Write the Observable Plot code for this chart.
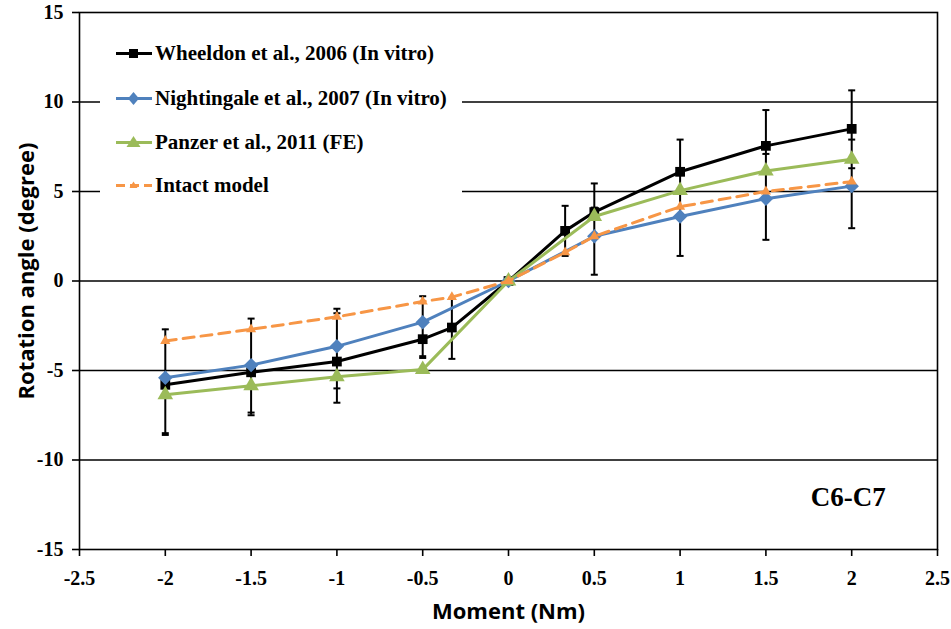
<!DOCTYPE html>
<html>
<head>
<meta charset="utf-8">
<script src="https://cdn.jsdelivr.net/npm/d3@7"></script>
<script src="https://cdn.jsdelivr.net/npm/@observablehq/plot@0.6"></script>
<style>
  body { margin: 0; background: #fff; }
  #wrap { position: relative; width: 951px; height: 629px; }
  #legend { position: absolute; left: 100px; top: 29px; width: 362px; height: 176px; background: #fff;
            font-family: "Liberation Serif", "Times New Roman", serif; font-weight: bold; font-size: 21px; color: #000; }
  .row { position: absolute; left: 0; height: 24px; display: flex; align-items: center; white-space: nowrap; }
  .row svg { margin-left: 16px; margin-right: 3px; flex: none; }
</style>
</head>
<body>
<div id="wrap"></div>
<script>
// ---- data ----
const wheeldonX = [-2, -1.5, -1, -0.5, -0.33, 0, 0.33, 0.5, 1, 1.5, 2];
const wheeldonY = [-5.8, -5.1, -4.5, -3.25, -2.6, 0, 2.8, 3.85, 6.1, 7.55, 8.5];
const nightingaleX = [-2, -1.5, -1, -0.5, 0, 0.5, 1, 1.5, 2];
const nightingaleY = [-5.4, -4.7, -3.65, -2.3, 0, 2.5, 3.6, 4.6, 5.3];
const panzerX = [-2, -1.5, -1, -0.5, 0, 0.5, 1, 1.5, 2];
const panzerY = [-6.35, -5.85, -5.35, -4.95, 0, 3.6, 5.05, 6.15, 6.8];
const intactX = [-2, -1.5, -1, -0.5, -0.33, 0, 0.33, 0.5, 1, 1.5, 2];
const intactY = [-3.35, -2.7, -2.0, -1.15, -0.9, 0, 1.6, 2.5, 4.15, 5.0, 5.55];

const errX  = [-2, -1.5, -1, -0.5, -0.33, 0.33, 0.5, 1, 1.5, 2];
const errLo = [-8.6, -7.5, -6.8, -4.3, -4.35, 1.4, 0.35, 1.4, 2.3, 2.95];
const errHi = [-2.7, -2.1, -1.55, -0.85, -1.0, 4.2, 5.45, 7.9, 9.55, 10.65];
const innerCapX = [-2, -1.5, -1, -1, -0.5, 0.5, 1.5, 2, 2];
const innerCapY = [-8.5, -7.35, -6.0, -1.8, -4.2, 4.1, 7.1, 7.9, 6.3];

const xTicks = [-2.5, -2, -1.5, -1, -0.5, 0, 0.5, 1, 1.5, 2, 2.5];
const yTicks = [-15, -10, -5, 0, 5, 10, 15];
const gridY = [-10, -5, 0, 5, 10];
const seriesNames = ["Wheeldon et al., 2006 (In vitro)", "Nightingale et al., 2007 (In vitro)", "Panzer et al., 2011 (FE)", "Intact model"];
const panelLabel = ["C6-C7"];
const panelLabelPos = {x: 1.98, y: -12.1};
const xTitle = "Moment (Nm)";
const yTitle = "Rotation angle (degree)";

// ---- build tables ----
const toRows = (xs, ys) => xs.map((x, i) => ({x, y: ys[i]}));
const wheeldon = toRows(wheeldonX, wheeldonY);
const nightingale = toRows(nightingaleX, nightingaleY);
const panzer = toRows(panzerX, panzerY);
const intact = toRows(intactX, intactY);
const errs = errX.map((x, i) => ({x, lo: errLo[i], hi: errHi[i]}));
const caps = errs.flatMap(d => [{x: d.x, y: d.lo}, {x: d.x, y: d.hi}])
  .concat(toRows(innerCapX, innerCapY));

const capSymbol = { draw(ctx) { ctx.moveTo(-3.5, 0); ctx.lineTo(3.5, 0); } };

const BLACK = "#000000", BLUE = "#4F81BD", GREEN = "#9BBB59", ORANGE = "#F79646";
const serif = "'Liberation Serif', 'Times New Roman', serif";
const sans = "'Open Sans', Lato, sans-serif";

const chart = Plot.plot({
  width: 951,
  height: 629,
  marginLeft: 79,
  marginRight: 14,
  marginTop: 12,
  marginBottom: 80,
  style: { fontFamily: serif, fontWeight: "bold", fontSize: "20px", background: "#fff", color: "#000", overflow: "visible" },
  x: { domain: [-2.5, 2.5], ticks: xTicks, tickFormat: d => `${d}`, label: null },
  y: { domain: [-15, 15], ticks: yTicks, tickFormat: d => `${d}`, label: null },
  marks: [
    Plot.ruleY(gridY, { stroke: BLACK, strokeWidth: 1.6 }),
    Plot.frame({ stroke: BLACK, strokeWidth: 1.6 }),
    Plot.axisX({ ticks: xTicks, tickFormat: d => `${d}`, tickSize: 7, tickPadding: 14, strokeWidth: 1.6, fontSize: 20, fontWeight: "bold", fontFamily: serif, label: null }),
    Plot.axisY({ ticks: yTicks, tickFormat: d => `${d}`, tickSize: 7, tickPadding: 9, strokeWidth: 1.6, fontSize: 20, fontWeight: "bold", fontFamily: serif, label: null }),
    // error bars
    Plot.ruleX(errs, { x: "x", y1: "lo", y2: "hi", stroke: BLACK, strokeWidth: 2 }),
    Plot.dot(caps, { x: "x", y: "y", symbol: capSymbol, stroke: BLACK, strokeWidth: 2, r: 4 }),
    // series
    Plot.line(wheeldon, { x: "x", y: "y", stroke: BLACK, strokeWidth: 3 }),
    Plot.dot(wheeldon, { x: "x", y: "y", symbol: "square", fill: BLACK, r: 5.5 }),
    Plot.line(nightingale, { x: "x", y: "y", stroke: BLUE, strokeWidth: 3 }),
    Plot.dot(nightingale, { x: "x", y: "y", symbol: "diamond2", fill: BLUE, r: 6.5 }),
    Plot.line(panzer, { x: "x", y: "y", stroke: GREEN, strokeWidth: 3 }),
    Plot.dot(panzer, { x: "x", y: "y", symbol: "triangle", fill: GREEN, r: 5.8 }),
    Plot.line(intact, { x: "x", y: "y", stroke: ORANGE, strokeWidth: 3, strokeDasharray: "11,7" }),
    Plot.dot(intact, { x: "x", y: "y", symbol: "triangle", fill: ORANGE, r: 3.8 }),
    // panel label
    Plot.text(panelLabel, { x: () => panelLabelPos.x, y: () => panelLabelPos.y, text: d => d, fontSize: 27, fontWeight: "bold", fontFamily: serif, fill: BLACK }),
    // axis titles
    Plot.text([xTitle], { frameAnchor: "bottom", dy: 62, lineAnchor: "middle", text: d => d, fontSize: 22, fontWeight: "bold", fontFamily: sans, fill: BLACK }),
    Plot.text([yTitle], { frameAnchor: "left", dx: -53, dy: -10, rotate: -90, textAnchor: "middle", lineAnchor: "middle", text: d => d, fontSize: 22, fontWeight: "bold", fontFamily: sans, fill: BLACK })
  ]
});

// force Times-like serif on every text except the two axis titles
d3.select(chart).selectAll("text").each(function () {
  const t = this.textContent;
  if (t === xTitle || t === yTitle) {
    this.style.fontFamily = "'Open Sans', Lato, sans-serif";
  } else {
    this.style.fontFamily = "'Liberation Serif', 'Times New Roman', serif";
    this.style.fontWeight = "bold";
  }
});

const wrap = document.getElementById("wrap");
wrap.appendChild(chart);

// ---- legend ----
const legend = document.createElement("div");
legend.id = "legend";
const rowsTop = [12, 57, 101, 144];
const swatch = [
  { color: BLACK, dash: null, marker: "square" },
  { color: BLUE, dash: null, marker: "diamond" },
  { color: GREEN, dash: null, marker: "triangle" },
  { color: ORANGE, dash: "9,5", marker: "smalltri" }
];
seriesNames.forEach((name, i) => {
  const s = swatch[i];
  const row = document.createElement("div");
  row.className = "row";
  row.style.top = rowsTop[i] + "px";
  let mk = "";
  if (s.marker === "square") mk = `<rect x="13" y="8" width="9" height="9" fill="${s.color}"/>`;
  if (s.marker === "diamond") mk = `<path d="M17.5,6 L23,12.5 L17.5,19 L12,12.5 Z" fill="${s.color}"/>`;
  if (s.marker === "triangle") mk = `<path d="M17.5,6 L24.5,17 L10.5,17 Z" fill="${s.color}"/>`;
  if (s.marker === "smalltri") mk = `<path d="M17.5,8.5 L21.5,15 L13.5,15 Z" fill="${s.color}"/>`;
  row.innerHTML = `<svg width="36" height="24"><line x1="0" y1="12.5" x2="36" y2="12.5" stroke="${s.color}" stroke-width="3" ${s.dash ? `stroke-dasharray="${s.dash}"` : ""}/>${mk}</svg><span>${name}</span>`;
  legend.appendChild(row);
});
wrap.appendChild(legend);
</script>
</body>
</html>
